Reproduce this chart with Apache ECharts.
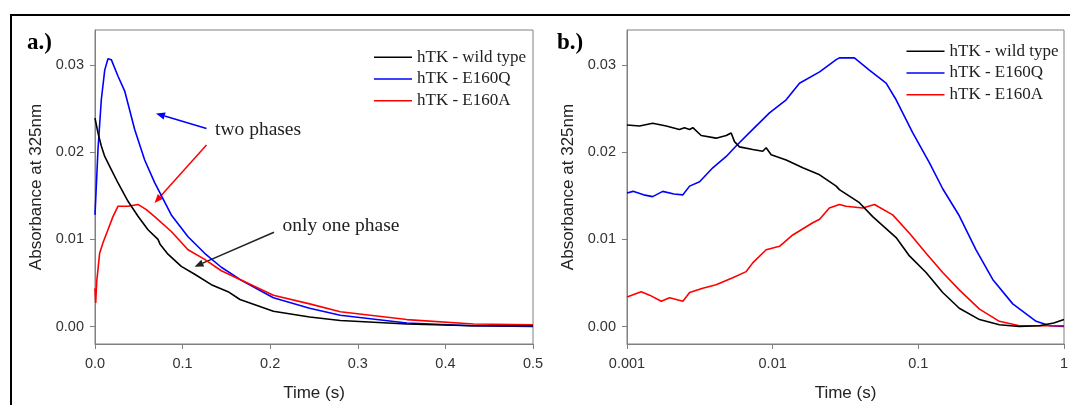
<!DOCTYPE html>
<html>
<head>
<meta charset="utf-8">
<script src="https://cdn.jsdelivr.net/npm/echarts@6/dist/echarts.min.js"></script>
<style>
html,body{margin:0;padding:0;background:#fff;}
#chart{width:1070px;height:405px;}
</style>
</head>
<body>
<div id="chart"></div>
<script>
// ---------- data ----------
const seriesNames = ['hTK - wild type', 'hTK - E160Q', 'hTK - E160A'];

// Panel a (linear time, s)
const linWildT = [0, 0.0034, 0.0072, 0.0111, 0.0186, 0.0263, 0.0377, 0.0491, 0.0605, 0.0719, 0.0745, 0.0833, 0.0985, 0.1138, 0.1328, 0.1519, 0.1655, 0.2036, 0.245, 0.28, 0.356, 0.43, 0.5];
const linWildA = [0.0239, 0.0222, 0.0207, 0.0195, 0.0180, 0.01646, 0.01436, 0.01264, 0.0111, 0.0100, 0.0094, 0.0083, 0.0069, 0.0060, 0.0048, 0.0040, 0.0031, 0.00175, 0.0011, 0.0007, 0.0003, 0.0001, 0.0001];

const linQT = [0, 0.0034, 0.0072, 0.0111, 0.0148, 0.0186, 0.0263, 0.0339, 0.0453, 0.0567, 0.0681, 0.0871, 0.1062, 0.1252, 0.1442, 0.1655, 0.2036, 0.245, 0.28, 0.356, 0.43, 0.5];
const linQA = [0.0128, 0.0203, 0.0260, 0.0294, 0.0307, 0.0306, 0.0287, 0.0270, 0.0226, 0.0191, 0.0165, 0.0128, 0.0103, 0.0084, 0.0068, 0.0054, 0.0033, 0.0021, 0.0013, 0.0004, 0.0001, 0.0000];

const linAT = [0, 0.0008, 0.002, 0.0053, 0.0091, 0.0148, 0.0205, 0.0263, 0.0377, 0.0491, 0.0586, 0.0681, 0.0871, 0.1062, 0.1252, 0.1442, 0.1655, 0.2036, 0.245, 0.28, 0.356, 0.432, 0.5];
const linAA = [0.0044, 0.0027, 0.0052, 0.0084, 0.0096, 0.0111, 0.0126, 0.0138, 0.0138, 0.0140, 0.0134, 0.0126, 0.0109, 0.0088, 0.0077, 0.0064, 0.0054, 0.0036, 0.0026, 0.0017, 0.0008, 0.0003, 0.0002];

// Panel b (log time, s)
const logWildT = [0.001, 0.00122, 0.0015, 0.00186, 0.00229, 0.00248, 0.00269, 0.00283, 0.00323, 0.00409, 0.0048, 0.00519, 0.00547, 0.00592, 0.0073, 0.00855, 0.00902, 0.00977, 0.01238, 0.0161, 0.021, 0.0273, 0.0287, 0.0394, 0.0486, 0.0704, 0.0869, 0.113, 0.147, 0.191, 0.263, 0.36, 0.494, 0.678, 0.85, 1];
const logWildA = [0.0231, 0.0230, 0.0233, 0.0230, 0.0226, 0.0228, 0.0226, 0.0228, 0.0219, 0.0216, 0.0219, 0.0222, 0.0212, 0.0206, 0.0203, 0.0201, 0.0205, 0.0197, 0.0191, 0.0182, 0.0174, 0.0161, 0.0157, 0.0142, 0.0126, 0.0102, 0.0081, 0.0062, 0.0039, 0.0021, 0.0008, 0.0002, 0.0000, 0.0001, 0.0004, 0.0008];

const logQT = [0.001, 0.0011, 0.0013, 0.0015, 0.00176, 0.0021, 0.00242, 0.00269, 0.00315, 0.00388, 0.0048, 0.00561, 0.0073, 0.00951, 0.01238, 0.01528, 0.021, 0.0273, 0.0287, 0.0364, 0.0461, 0.0601, 0.0704, 0.0916, 0.119, 0.147, 0.191, 0.249, 0.324, 0.445, 0.644, 0.8, 1];
const logQA = [0.0153, 0.0155, 0.0151, 0.0149, 0.0155, 0.0152, 0.0151, 0.0161, 0.0166, 0.0182, 0.0195, 0.0207, 0.0226, 0.0245, 0.0260, 0.0279, 0.0292, 0.0306, 0.0308, 0.0308, 0.0294, 0.0279, 0.0260, 0.0222, 0.0188, 0.0158, 0.0127, 0.0088, 0.0054, 0.0026, 0.0006, 0.0001, 0.0000];

const logAT = [0.001, 0.00125, 0.00143, 0.00172, 0.00196, 0.00242, 0.00269, 0.00331, 0.00409, 0.00532, 0.00658, 0.0073, 0.00902, 0.01114, 0.01374, 0.01884, 0.021, 0.0245, 0.0287, 0.0319, 0.0415, 0.05, 0.0667, 0.0869, 0.113, 0.147, 0.191, 0.263, 0.36, 0.494, 0.7, 1];
const logAA = [0.0034, 0.0040, 0.0036, 0.0029, 0.0033, 0.0029, 0.0039, 0.0044, 0.0048, 0.0056, 0.0063, 0.0073, 0.0088, 0.0092, 0.0105, 0.0119, 0.0123, 0.0136, 0.0140, 0.0138, 0.0136, 0.0140, 0.0128, 0.0107, 0.0084, 0.0062, 0.0042, 0.0020, 0.0006, 0.0001, 0.0001, 0.0001];

const yTicks = [0, 0.01, 0.02, 0.03];
const colors = ['#000000', '#0000ff', '#ff0000'];

// ---------- chart ----------
function pairs(t, a) { return t.map((x, i) => [x, a[i]]); }

const AX = '#808080';
const tickFont = { fontFamily: 'Liberation Sans', fontSize: 14.5, color: '#333' };
const nameFont = { fontFamily: 'Liberation Sans', fontSize: 17, color: '#222' };

function yAxis(gi) {
  return {
    type: 'value', gridIndex: gi, min: -0.002, max: 0.034,
    name: 'Absorbance at 325nm', nameLocation: 'middle', nameGap: 50, nameRotate: 90,
    nameTextStyle: nameFont,
    axisLine: { show: true, onZero: false, lineStyle: { color: AX, width: 1 } },
    axisTick: { show: true, inside: false, length: 5, lineStyle: { color: AX }, customValues: yTicks },
    axisLabel: Object.assign({ margin: 11, formatter: v => v.toFixed(2), customValues: yTicks }, tickFont),
    splitLine: { show: false }
  };
}

function lineSeries(name, xi, t, a, c) {
  return {
    name, type: 'line', xAxisIndex: xi, yAxisIndex: xi, data: pairs(t, a),
    showSymbol: false, symbol: 'none', smooth: false, color: c,
    lineStyle: { color: c, width: 1.6 }, z: c === '#000000' ? 3 : 2
  };
}

const legendBase = {
  orient: 'vertical', icon: 'rect', itemWidth: 38, itemHeight: 1.6, itemGap: 3.7,
  data: seriesNames, selectedMode: false,
  textStyle: { fontFamily: 'Liberation Serif', fontSize: 17, color: '#222', lineHeight: 18 }
};

function arrow(x1, y1, x2, y2, c) {
  const ang = Math.atan2(y2 - y1, x2 - x1);
  const L = 9, W = 3.6;
  const bx = x2 - L * Math.cos(ang), by = y2 - L * Math.sin(ang);
  const px = -Math.sin(ang) * W, py = Math.cos(ang) * W;
  return [
    { type: 'line', shape: { x1, y1, x2: bx, y2: by }, style: { stroke: c, lineWidth: 1.5 } },
    { type: 'polygon', shape: { points: [[x2, y2], [bx + px, by + py], [bx - px, by - py]] }, style: { fill: c } }
  ];
}

const annoFont = { fontFamily: 'Liberation Serif', fontSize: 19.5, fill: '#222' };

const option = {
  animation: false,
  backgroundColor: '#fff',
  grid: [
    { left: 95, top: 30, width: 438, height: 314, show: true, borderColor: AX, borderWidth: 1, outerBoundsMode: 'none' },
    { left: 627, top: 30, width: 437, height: 314, show: true, borderColor: AX, borderWidth: 1, outerBoundsMode: 'none' }
  ],
  xAxis: [
    {
      type: 'value', gridIndex: 0, min: 0, max: 0.5, interval: 0.1,
      name: 'Time (s)', nameLocation: 'middle', nameGap: 41, nameTextStyle: nameFont,
      axisLine: { show: true, onZero: false, lineStyle: { color: AX } },
      axisTick: { show: true, length: 5, lineStyle: { color: AX } },
      axisLabel: Object.assign({ margin: 12, formatter: v => v.toFixed(1) }, tickFont),
      splitLine: { show: false }
    },
    {
      type: 'log', logBase: 10, gridIndex: 1, min: 0.001, max: 1,
      name: 'Time (s)', nameLocation: 'middle', nameGap: 41, nameTextStyle: nameFont,
      axisLine: { show: true, onZero: false, lineStyle: { color: AX } },
      axisTick: { show: true, length: 5, lineStyle: { color: AX } },
      minorTick: { show: false },
      axisLabel: Object.assign({ margin: 12, formatter: v => String(parseFloat(Number(v).toPrecision(3))) }, tickFont),
      splitLine: { show: false }
    }
  ],
  yAxis: [yAxis(0), yAxis(1)],
  legend: [
    Object.assign({ left: 369, top: 43.3 }, legendBase),
    Object.assign({ left: 901.5, top: 37.3 }, legendBase)
  ],
  series: [
    lineSeries(seriesNames[1], 0, linQT, linQA, colors[1]),
    lineSeries(seriesNames[2], 0, linAT, linAA, colors[2]),
    lineSeries(seriesNames[0], 0, linWildT, linWildA, colors[0]),
    lineSeries(seriesNames[1], 1, logQT, logQA, colors[1]),
    lineSeries(seriesNames[2], 1, logAT, logAA, colors[2]),
    lineSeries(seriesNames[0], 1, logWildT, logWildA, colors[0])
  ],
  graphic: [
    { type: 'rect', shape: { x: 11, y: 15, width: 1200, height: 1000 }, style: { fill: 'none', stroke: '#000', lineWidth: 2 }, silent: true },
    { type: 'text', left: 27, top: 32, style: { text: 'a.)', fontFamily: 'Liberation Serif', fontWeight: 'bold', fontSize: 23, fill: '#000' } },
    { type: 'text', left: 557, top: 32, style: { text: 'b.)', fontFamily: 'Liberation Serif', fontWeight: 'bold', fontSize: 23, fill: '#000' } },
    { type: 'text', x: 215, y: 130, style: Object.assign({ text: 'two phases', verticalAlign: 'middle' }, annoFont) },
    { type: 'text', x: 282.5, y: 226, style: Object.assign({ text: 'only one phase', verticalAlign: 'middle' }, annoFont) },
    ...arrow(206.5, 128.5, 156, 113.5, '#0000ff'),
    ...arrow(206.5, 145, 154.5, 203, '#ff0000'),
    ...arrow(274, 232.3, 194.5, 266.7, '#222')
  ]
};

const chart = echarts.init(document.getElementById('chart'), null, { renderer: 'canvas' });
chart.setOption(option);
</script>
</body>
</html>
